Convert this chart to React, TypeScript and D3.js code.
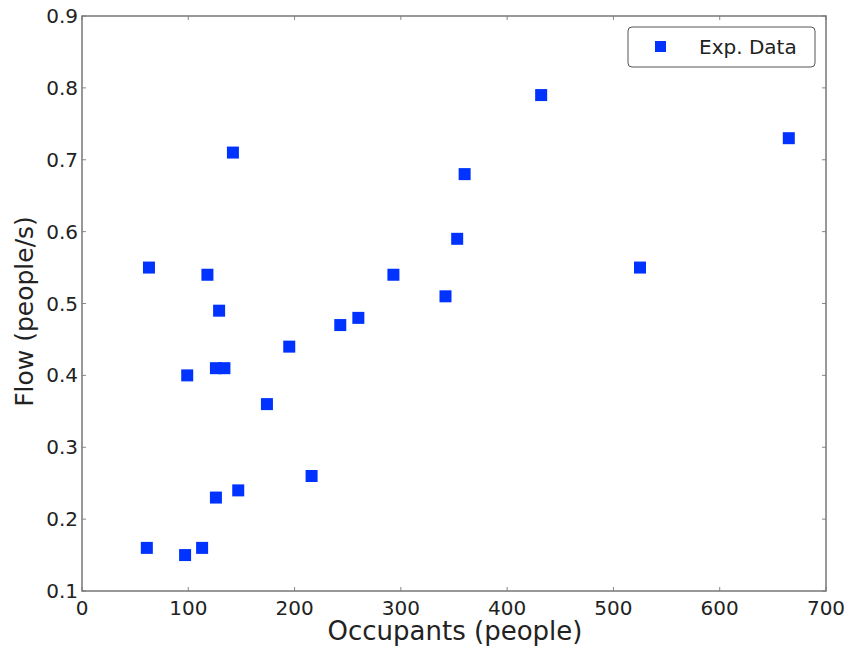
import React from "react";
import * as d3 from "d3";

const occupants = [63, 118, 129, 142, 99, 126, 134, 174, 195, 243, 260, 293, 342, 353, 360, 432, 525, 665, 61, 97, 113, 126, 147, 216];
const flow = [0.55, 0.54, 0.49, 0.71, 0.40, 0.41, 0.41, 0.36, 0.44, 0.47, 0.48, 0.54, 0.51, 0.59, 0.68, 0.79, 0.55, 0.73, 0.16, 0.15, 0.16, 0.23, 0.24, 0.26];
const xTicks = [0, 100, 200, 300, 400, 500, 600, 700];
const yTicks = [0.1, 0.2, 0.3, 0.4, 0.5, 0.6, 0.7, 0.8, 0.9];
const seriesName = "Exp. Data";

const W = 851, H = 648;
const M = { left: 82, right: 826, top: 16, bottom: 591 };
const FONT = "DejaVu Sans, sans-serif";
const BLUE = "#0033ff";

export default function App() {
  const x = d3.scaleLinear().domain([0, 700]).range([M.left, M.right]);
  const y = d3.scaleLinear().domain([0.1, 0.9]).range([M.bottom, M.top]);
  const ms = 12;
  return (
    <svg width={W} height={H} style={{ position: "absolute", left: 0, top: 0, background: "#fff" }}>
      {xTicks.map((t) => (
        <g key={"x" + t}>
          <line x1={x(t)} x2={x(t)} y1={M.bottom} y2={M.bottom - 4} stroke="#888" />
          <line x1={x(t)} x2={x(t)} y1={M.top} y2={M.top + 4} stroke="#888" />
          <text x={x(t)} y={M.bottom + 24} textAnchor="middle" fontFamily={FONT} fontSize={20} fill="#222">{t}</text>
        </g>
      ))}
      {yTicks.map((t) => (
        <g key={"y" + t}>
          <line x1={M.left} x2={M.left + 4} y1={y(t)} y2={y(t)} stroke="#888" />
          <line x1={M.right} x2={M.right - 4} y1={y(t)} y2={y(t)} stroke="#888" />
          <text x={M.left - 4} y={y(t) + 7} textAnchor="end" fontFamily={FONT} fontSize={20} fill="#222">{t.toFixed(1)}</text>
        </g>
      ))}
      <rect x={M.left} y={M.top} width={M.right - M.left} height={M.bottom - M.top} fill="none" stroke="#777" strokeWidth={1.5} />
      {occupants.map((o, i) => (
        <rect key={i} x={x(o) - ms / 2} y={y(flow[i]) - ms / 2} width={ms} height={ms} fill={BLUE} />
      ))}
      <rect x={628} y={27} width={187} height={40} rx={4} fill="#fff" stroke="#555" strokeWidth={1} />
      <rect x={655} y={41} width={11} height={11} fill={BLUE} />
      <text x={699} y={54} fontFamily={FONT} fontSize={20} fill="#222">{seriesName}</text>
      <text x={(M.left + M.right) / 2 + 1} y={640} textAnchor="middle" fontFamily={FONT} fontSize={26} fill="#222">Occupants (people)</text>
      <text transform={`translate(33, ${(M.top + M.bottom) / 2 + 8}) rotate(-90)`} textAnchor="middle" fontFamily={FONT} fontSize={25} fill="#222">Flow (people/s)</text>
    </svg>
  );
}
